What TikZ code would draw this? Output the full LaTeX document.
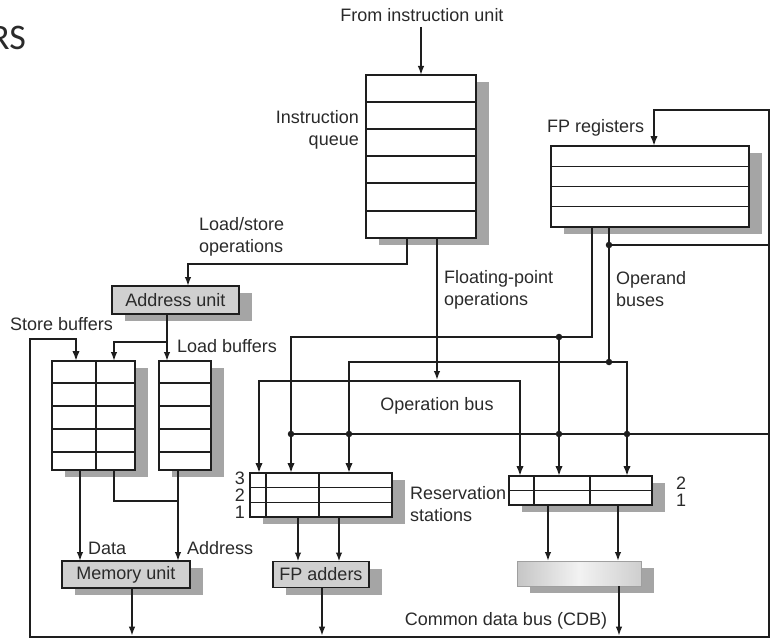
\documentclass[tikz,border=0pt]{standalone}
\usepackage{fontspec}
\setmainfont{Liberation Sans}
\newfontfamily\rsfont{Carlito}
\usetikzlibrary{arrows.meta,shadows}
\definecolor{ink}{HTML}{1E1E1E}
\definecolor{txt}{HTML}{2A2A2A}
\definecolor{shgray}{HTML}{A5A5A5}
\definecolor{boxgray}{HTML}{D0D0D0}
\begin{document}
\begin{tikzpicture}[x=1pt,y=-1pt,
  tab/.style={draw=ink, line width=1.5pt, fill=white, inner sep=0pt, outer sep=0pt,
    general shadow={fill=shgray, shadow xshift=13pt, shadow yshift=-7pt}},
  unitbox/.style={tab, fill=boxgray, font=\fontsize{18}{21}\selectfont, text=txt},
  lbl/.style={text=txt, font=\fontsize{18}{22}\selectfont, inner sep=0pt},
  rowln/.style={draw=ink, line width=1.3pt},
  thinln/.style={draw=ink, line width=1.5pt},
  thickln/.style={draw=ink, line width=2.6pt},
  tipa/.style={-{Latex[length=9pt,width=6.5pt]}},
  tipb/.style={-{Latex[length=10pt,width=7.5pt]}},
  tipbb/.style={{Latex[length=10pt,width=7.5pt]}-{Latex[length=10pt,width=7.5pt]}},
  jdot/.style={circle, fill=ink, inner sep=0pt, minimum size=6.5pt}]
\useasboundingbox (0,0) rectangle (780,642);

% ---------- partial title ----------
\node[font=\rsfont\fontsize{36}{36}\selectfont, text=txt, anchor=east, inner sep=0pt] (rs) at (26,38) {RS};

% ---------- boxes ----------
\node[tab, minimum width=110pt, minimum height=163pt] (iq) at (421,156.5) {};
\foreach \yy in {102,129,156,183,211} \draw[rowln] (366,\yy) -- (476,\yy);

\node[tab, minimum width=198pt, minimum height=81pt] (fpr) at (650,186.5) {};
\foreach \yy in {166.25,186.5,206.75} \draw[rowln] (551,\yy) -- (749,\yy);

\node[unitbox, minimum width=127pt, minimum height=28pt] (au) at (175.5,300) {Address unit};

\node[tab, minimum width=83pt, minimum height=109pt] (sb) at (93.5,415.5) {};
\foreach \yy in {383,406,429,452} \draw[rowln] (52,\yy) -- (135,\yy);
\draw[rowln] (96,361) -- (96,470);

\node[tab, minimum width=52pt, minimum height=109pt] (lb) at (185,415.5) {};
\foreach \yy in {383,406,429,452} \draw[rowln] (159,\yy) -- (211,\yy);

\node[tab, minimum width=142pt, minimum height=44pt] (rs1) at (321,495) {};
\foreach \yy in {487.7,502.3} \draw[rowln] (250,\yy) -- (392,\yy);
\foreach \xx in {266,319} \draw[rowln] (\xx,473) -- (\xx,517);

\node[tab, minimum width=143pt, minimum height=29pt] (rs2) at (580.5,490.5) {};
\draw[rowln] (509,490.5) -- (652,490.5);
\foreach \xx in {534,590} \draw[rowln] (\xx,476) -- (\xx,505);

\node[unitbox, minimum width=128pt, minimum height=27pt] (mu) at (126,574.5) {Memory unit};
\node[unitbox, minimum width=96pt, minimum height=26pt] (fa) at (321,574.5) {FP adders};
\node[tab, draw=gray!75, line width=1pt, minimum width=124pt, minimum height=25pt,
      left color=gray!45, right color=gray!38, middle color=gray!10] (mb) at (579,573.5) {};

% ---------- labels ----------
\node[lbl] (fiu) at (422,15) {From instruction unit};
\node[lbl, align=right, anchor=east] (iql) at (359,130) {Instruction\\queue};
\node[lbl, align=left, anchor=west] (lsl) at (199,236.5) {Load/store\\operations};
\node[lbl, align=left, anchor=west] (fpl) at (444,289.5) {Floating-point\\operations};
\node[lbl, align=left, anchor=west] (obl) at (616,289) {Operand\\buses};
\node[lbl, anchor=west] (fprl) at (547,128) {FP registers};
\node[lbl, anchor=west] (sbl) at (10,324) {Store buffers};
\node[lbl, anchor=west] (lbl1) at (177,346) {Load buffers};
\node[lbl] (opb) at (437,406) {Operation bus};
\node[lbl, align=left, anchor=west] (rsl) at (410,504.5) {Reservation\\stations};
\node[lbl, anchor=east] (n3) at (245,478) {3};
\node[lbl, anchor=east] (n2) at (245,495) {2};
\node[lbl, anchor=east] (n1) at (245,512) {1};
\node[lbl, anchor=west] (m2) at (676,483) {2};
\node[lbl, anchor=west] (m1) at (676,500) {1};
\node[lbl, anchor=west] (dl) at (88,548) {Data};
\node[lbl, anchor=west] (al) at (187,548) {Address};
\node[lbl] (cdbl) at (506,621) {Common data bus (CDB)};

% ---------- junction coordinates ----------
\coordinate (iqL) at (407,264);
\coordinate (auIn) at (188,264);
\coordinate (fpo) at (437,380);
\coordinate (ob1) at (259,381);
\coordinate (ob2) at (520,381);
\coordinate (f1) at (592,337);
\coordinate (a1) at (291,337);
\coordinate (d1) at (559,337);
\coordinate (f2) at (609,362);
\coordinate (a2) at (349,362);
\coordinate (b2) at (627,362);
\coordinate (e1) at (609,245);
\coordinate (eR) at (769,245);
\coordinate (c1) at (291,434);
\coordinate (c2) at (349,434);
\coordinate (c3) at (559,434);
\coordinate (c4) at (627,434);
\coordinate (cR) at (769,434);
\coordinate (cbl) at (30,637);
\coordinate (cbr) at (769,637);
\coordinate (cl) at (30,339);
\coordinate (sbIn) at (76,339);
\coordinate (cr) at (769,110);
\coordinate (frIn) at (654,110);
\coordinate (ab) at (167,342);
\coordinate (abL) at (114,342);
\coordinate (s1) at (80,500);
\coordinate (s2) at (114,501);
\coordinate (lbo) at (178,501);
\coordinate (mo) at (132,600);
\coordinate (fo) at (322,600);
\coordinate (mbo) at (619,600);
\coordinate (r1a) at (298,530);
\coordinate (r1b) at (339,530);
\coordinate (r2a) at (548,530);
\coordinate (r2b) at (618,530);

% ---------- thin connectors ----------
\draw[thinln, tipa, shorten <=5pt] (fiu.south -| iq.north) -- (iq.north);
\draw[thinln, tipa] (iq.south -| iqL) -- (iqL) -- (auIn) -- (au.north -| auIn);
\draw[thinln, tipa] (iq.south -| fpo) -- (fpo);
\draw[thinln, tipa] (au.south -| ab) -- (lb.north -| ab);
\draw[thinln, tipa] (ab) -- (abL) -- (sb.north -| abL);
\draw[thinln] (sb.south -| s2) -- (s2) -- (lbo);
\draw[thinln, tipa] (lb.south -| lbo) -- (mu.north -| lbo);
\draw[thinln, tipa] (sb.south -| s1) -- (mu.north -| s1);
\draw[thinln, tipa] (rs1.south -| r1a) -- (fa.north -| r1a);
\draw[thinln, tipa] (rs1.south -| r1b) -- (fa.north -| r1b);
\draw[thinln, tipa] (rs2.south -| r2a) -- (mb.north -| r2a);
\draw[thinln, tipa] (rs2.south -| r2b) -- (mb.north -| r2b);
\draw[thinln, tipa, shorten >=1.3pt] (mu.south -| mo) -- (cbl -| mo);
\draw[thinln, tipa, shorten >=1.3pt] (fa.south -| fo) -- (cbl -| fo);
\draw[thinln, tipa, shorten >=1.3pt] (mb.south -| mbo) -- (cbl -| mbo);

% ---------- thick buses ----------
\draw[thickln, tipbb] (rs1.north -| ob1) -- (ob1) -- (ob2) -- (rs2.north -| ob2);
\draw[thickln, tipb] (fpr.south -| f1) -- (f1) -- (a1) -- (rs1.north -| a1);
\draw[thickln, tipb] (d1) -- (rs2.north -| d1);
\draw[thickln] (fpr.south -| f2) -- (f2);
\draw[thickln, tipbb] (rs1.north -| a2) -- (a2) -- (b2) -- (rs2.north -| b2);
\draw[thickln, tipbb] (sb.north -| sbIn) -- (sbIn) -- (cl) -- (cbl) -- (cbr) -- (cr) -- (frIn) -- (fpr.north -| frIn);
\draw[thickln] (c1) -- (cR);
\draw[thickln] (e1) -- (eR);

% ---------- junction dots ----------
\foreach \p in {d1,f2,e1,c1,c2,c3,c4} \node[jdot] at (\p) {};
\end{tikzpicture}
\end{document}
